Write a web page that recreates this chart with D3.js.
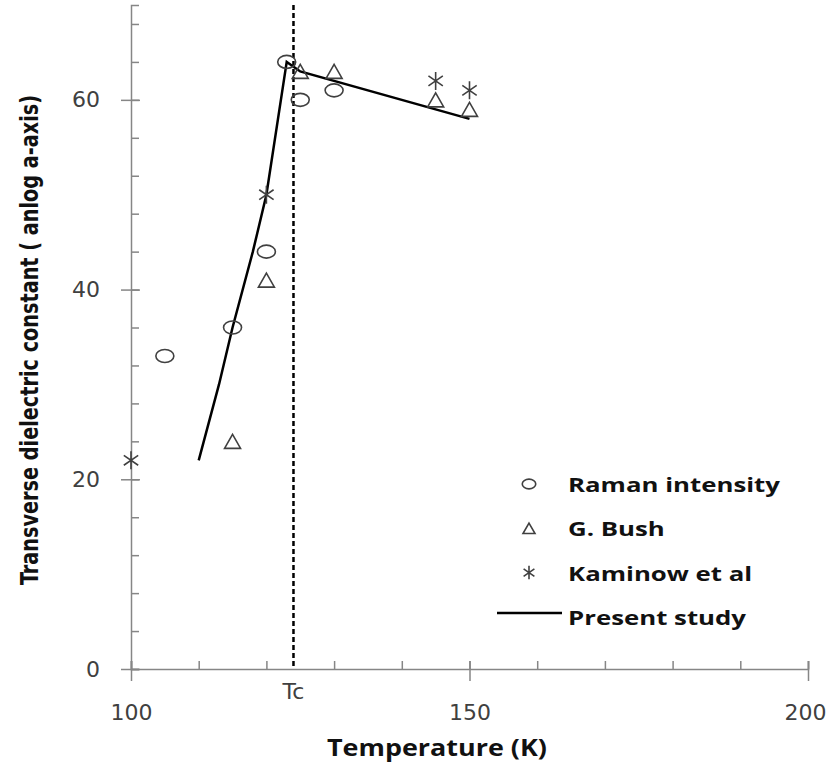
<!DOCTYPE html>
<html>
<head>
<meta charset="utf-8">
<script src="https://cdn.jsdelivr.net/npm/d3@7"></script>
<style>
body { margin: 0; background: #fff; }
svg { display: block; }
</style>
</head>
<body>
<div id="chart"></div>
<script>
const w = 827
const h = 762

// data
const ramanT = [105, 115, 120, 123, 125, 130]
const ramanE = [33, 36, 44, 64, 60, 61]
const bushT = [115, 120, 125, 130, 145, 150]
const bushE = [24, 41, 63, 63, 60, 59]
const kaminowT = [100, 120, 145, 150]
const kaminowE = [22, 50, 62, 61]
const studyT = [110, 113, 115, 118, 120, 123, 125, 150]
const studyE = [22, 30, 36, 44, 50, 64, 63, 58]
const tc = 124
const xMajor = [100, 150, 200]
const xMinor = [100, 110, 120, 130, 140, 150, 160, 170, 180, 190, 200]
const yMajor = [0, 20, 40, 60]
const yMinor = [0, 4, 8, 12, 16, 20, 24, 28, 32, 36, 40, 44, 48, 52, 56, 60, 64, 68]
const legendNames = ['Raman intensity', 'G. Bush', 'Kaminow et al', 'Present study']

const margin = {top: 5, right: 19, bottom: 93, left: 131}
const gw = w - margin.left - margin.right
const gh = h - margin.top - margin.bottom

const svg = d3.select('#chart')
	.append('svg')
	.attr('width', w)
	.attr('height', h)

const graph = svg.append('g')
	.attr('transform', `translate(${margin.left}, ${margin.top})`)

const x = d3.scaleLinear().domain([100, 200]).range([0, gw])
const y = d3.scaleLinear().domain([0, 70]).range([gh, 0])

const axisColor = '#868686'
const markColor = '#404040'
const labelFont = '"DejaVu Sans", sans-serif'
const titleFont = '"Open Sans", sans-serif'

// y axis: minor ticks to the right, major ticks crossing with labels
graph.append('g').call(d3.axisRight(y).tickValues(yMinor).tickSize(8).tickFormat(''))
const yMajorG = graph.append('g').call(d3.axisLeft(y).tickValues(yMajor).tickSize(10).tickPadding(21))
yMajorG.select('.domain').remove()
yMajorG.selectAll('text')
	.attr('font-family', labelFont)
	.attr('font-size', 22)
	.attr('fill', '#404040')

// x axis
graph.append('g')
	.attr('transform', `translate(0, ${gh})`)
	.call(d3.axisTop(x).tickValues(xMinor).tickSize(8).tickFormat(''))
const xMajorG = graph.append('g').attr('transform', `translate(0, ${gh})`)
	.call(d3.axisBottom(x).tickValues(xMajor).tickSize(12).tickPadding(23))
xMajorG.select('.domain').remove()
xMajorG.selectAll('text')
	.attr('font-family', labelFont)
	.attr('font-size', 22)
	.attr('fill', '#404040')
	.attr('dx', d => d === 200 ? -3 : 0)

// extend major ticks over the axis
yMajorG.selectAll('.tick line').attr('x2', 9).attr('x1', -10)
xMajorG.selectAll('.tick line').attr('y1', -8)

svg.selectAll('.domain, .tick line')
	.attr('stroke', axisColor)
	.attr('stroke-width', 1.5)

// Tc dashed line
graph.append('line')
	.attr('x1', x(tc)).attr('x2', x(tc))
	.attr('y1', y(70)).attr('y2', y(0))
	.attr('stroke', '#000')
	.attr('stroke-width', 2.5)
	.attr('stroke-dasharray', '5,3')

graph.append('text')
	.attr('x', x(tc))
	.attr('y', gh + 30)
	.attr('text-anchor', 'middle')
	.attr('font-family', labelFont)
	.attr('font-size', 22)
	.attr('fill', '#404040')
	.text('Tc')

// present study line
const study = studyT.map((t, i) => [t, studyE[i]])
graph.append('path')
	.datum(study)
	.attr('fill', 'none')
	.attr('stroke', '#000')
	.attr('stroke-width', 2.5)
	.attr('d', d3.line().x(d => x(d[0])).y(d => y(d[1])))

// marker shapes
function circle(g, s) {
	g.append('ellipse').attr('rx', 9 * s).attr('ry', 6.5 * s)
		.attr('fill', 'none').attr('stroke', markColor).attr('stroke-width', 1.6)
}
function triangle(g, s) {
	const a = 8 * s, b = 7 * s
	g.append('path').attr('d', `M0,${-b}L${a},${b}L${-a},${b}Z`)
		.attr('fill', 'none').attr('stroke', markColor).attr('stroke-width', 1.6)
}
function star(g, s) {
	const r = 9 * s
	g.append('path').attr('d', `M0,${-r}V${r}M${-r * 0.8},${-r * 0.55}L${r * 0.8},${r * 0.55}M${-r * 0.8},${r * 0.55}L${r * 0.8},${-r * 0.55}`)
		.attr('fill', 'none').attr('stroke', markColor).attr('stroke-width', 1.6)
}

function drawPoints(ts, es, shape) {
	ts.forEach((t, i) => {
		const g = graph.append('g').attr('transform', `translate(${x(t)}, ${y(es[i])})`)
		shape(g, 1)
	})
}
drawPoints(ramanT, ramanE, circle)
drawPoints(bushT, bushE, triangle)
drawPoints(kaminowT, kaminowE, star)

// legend
const legend = svg.append('g')
const shapes = [circle, triangle, star, null]
legendNames.forEach((name, i) => {
	const base = 492 + i * 44.3
	const mid = base - 8
	if (shapes[i]) {
		const g = legend.append('g').attr('transform', `translate(529, ${mid})`)
		shapes[i](g, 0.75)
	} else {
		legend.append('line').attr('x1', 497).attr('x2', 562).attr('y1', mid - 4).attr('y2', mid - 4)
			.attr('stroke', '#000').attr('stroke-width', 2.5)
	}
	legend.append('text')
		.attr('transform', `translate(568, ${base}) scale(1.29, 1)`)
		.attr('font-family', titleFont)
		.attr('font-weight', 'bold')
		.attr('font-size', 20)
		.attr('fill', '#111')
		.text(name)
})

// axis titles
svg.append('text')
	.attr('x', 437)
	.attr('y', 756)
	.attr('text-anchor', 'middle')
	.attr('font-family', titleFont)
	.attr('font-weight', 'bold')
	.attr('font-size', 23)
	.attr('textLength', 220)
	.attr('lengthAdjust', 'spacingAndGlyphs')
	.attr('fill', '#111')
	.text('Temperature (K)')

svg.append('text')
	.attr('transform', 'translate(38, 340) rotate(-90)')
	.attr('text-anchor', 'middle')
	.attr('font-family', '"DejaVu Sans Condensed", "DejaVu Sans", sans-serif')
	.attr('font-weight', 'bold')
	.attr('font-size', 25)
	.attr('textLength', 490)
	.attr('lengthAdjust', 'spacingAndGlyphs')
	.attr('fill', '#111')
	.text('Transverse dielectric constant ( anlog a-axis)')
</script>
</body>
</html>
